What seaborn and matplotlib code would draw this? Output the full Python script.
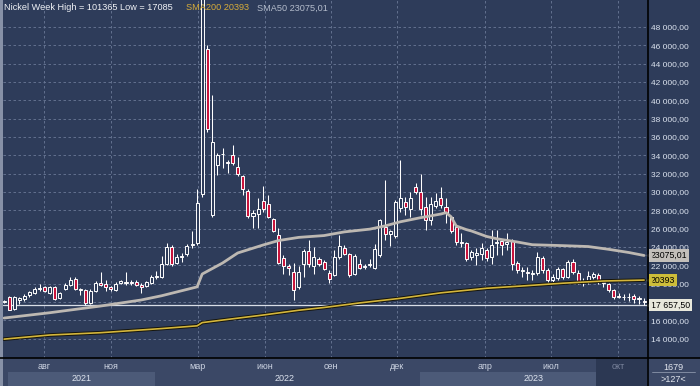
import numpy as np
import pandas as pd
import matplotlib
matplotlib.use("Agg")
import matplotlib.pyplot as plt
import matplotlib.dates as mdates
import matplotlib.patheffects as pe
from matplotlib.transforms import blended_transform_factory
from matplotlib.lines import Line2D
from matplotlib.patches import Rectangle
import seaborn as sns

# ---------------- data ----------------
start_week = "2021-06-07"
opens = [17950, 18500, 17250, 18250, 18300, 18750, 19000, 19400, 19650, 19000,
         19650, 18400, 19400, 19900, 20500, 19350, 19300, 17900, 19200, 20100,
         20000, 19600, 19300, 20050, 20050, 20100, 20200, 19900, 19800, 20050,
         20700, 20750, 22200, 24000, 22300, 22900, 23250, 24250, 24400, 29750,
         45600, 27500, 32950, 34100, 33250, 34050, 32700, 31700, 30100, 27400,
         27600, 29050, 28700, 27050, 25300, 22850, 21950, 21250, 19600, 22150,
         23600, 21950, 22650, 22400, 21130, 20950, 22900, 23900, 23250, 21050,
         22150, 21850, 22050, 21700, 23150, 26200, 25450, 25150, 28300, 28950,
         28200, 30500, 30050, 28400, 26950, 28500, 29300, 28400, 27300, 26200,
         24500, 24450, 22900, 23100, 23200, 23700, 22900, 24450, 24700, 24300,
         24700, 22300, 21400, 21250, 21100, 21150, 22850, 21450, 20400, 20600,
         21550, 20750, 22400, 21200, 20200, 20150, 20700, 20950, 20100, 19950,
         19300, 18650, 18500, 18600, 18650, 18300, 18150]
highs = [18250, 18650, 18700, 18600, 18900, 19200, 19600, 20000, 19800, 19800,
         19800, 19100, 20100, 20700, 20700, 19500, 19400, 19450, 20300, 21300,
         20350, 19750, 20150, 20400, 21300, 20350, 20400, 20050, 20300, 20950,
         21350, 23000, 24400, 24200, 23200, 23300, 24300, 25700, 30300, 101365,
         46000, 40600, 34220, 34800, 33500, 35100, 33850, 31850, 30300, 28050,
         29300, 30650, 29650, 27200, 26050, 23100, 22100, 22250, 21950, 23750,
         24750, 24000, 22900, 22600, 21500, 23650, 25300, 24200, 23400, 23200,
         22700, 22200, 22700, 24300, 27050, 31300, 25850, 29100, 33450, 29500,
         30050, 30950, 31950, 29500, 29500, 29850, 30600, 29300, 27400, 26400,
         25500, 24600, 23650, 23850, 24400, 23900, 25900, 25900, 24900, 25500,
         24850, 22500, 21800, 21800, 21500, 23500, 23000, 21700, 21100, 21800,
         21700, 22600, 22700, 21450, 20650, 21400, 21250, 21200, 20350, 20100,
         19400, 19000, 18850, 18950, 18900, 18650, 18400]
lows = [17850, 17085, 17150, 17800, 18100, 18550, 18900, 19200, 19100, 18900,
        18250, 18300, 19300, 19800, 19300, 18800, 17700, 17750, 19050, 19800,
        19250, 19200, 19200, 19950, 19900, 19850, 19800, 19000, 19600, 19950,
        20500, 20600, 22000, 21900, 22100, 22400, 23000, 23850, 24200, 29500,
        36500, 27300, 31850, 32600, 32100, 32900, 31700, 29650, 27200, 26050,
        26050, 27850, 27150, 25650, 22100, 21100, 21000, 18200, 19400, 20750,
        21850, 21050, 21900, 21500, 20050, 20800, 22700, 23100, 20750, 20900,
        21550, 21600, 21850, 21550, 22900, 24800, 24100, 25000, 27800, 27500,
        27300, 29800, 27500, 25850, 26400, 28300, 28300, 26600, 25500, 24200,
        24050, 22500, 22550, 22050, 22600, 22500, 22200, 23150, 23150, 23650,
        21500, 21200, 20700, 20350, 20350, 21000, 21200, 19900, 20000, 20450,
        20550, 20600, 21100, 19950, 19800, 20000, 20500, 19950, 19650, 19050,
        18350, 18400, 18200, 18150, 17900, 17800, 17700]
closes = [18150, 17100, 18550, 18450, 18650, 19050, 19400, 19450, 19150, 19650,
          18350, 19000, 19900, 20400, 19400, 19300, 17850, 19250, 20100, 19900,
          19650, 19400, 20000, 20250, 20100, 20050, 19900, 19600, 20150, 20700,
          20850, 22150, 24050, 22200, 22950, 22950, 24100, 24300, 28850, 88000,
          36900, 35500, 34050, 34200, 33200, 33200, 31950, 30300, 27400, 27700,
          28200, 28100, 27250, 25800, 22300, 21900, 21750, 19300, 21250, 23600,
          22150, 22950, 22150, 21650, 20480, 22950, 24100, 23250, 20950, 23000,
          21700, 21950, 22100, 23800, 26950, 25450, 25700, 28950, 29400, 28400,
          29400, 29950, 28200, 26950, 28700, 29050, 28600, 27750, 25700, 24500,
          24400, 22650, 23500, 23400, 23850, 22750, 24250, 24500, 24200, 24500,
          22200, 21450, 21500, 21200, 21200, 22900, 21450, 20450, 20700, 21600,
          20700, 22400, 21300, 20250, 20250, 20850, 21050, 20150, 20050, 19300,
          18550, 18550, 18550, 18500, 18300, 18350, 17950]

sma50_idx = [0, 9, 19, 27, 31, 38, 39, 43, 46, 51, 54, 58, 63, 67, 72, 75, 78,
             82, 86, 87, 88, 89, 90, 91, 92, 95, 97, 101, 104, 110, 115, 119, 123, 126]
sma50_val = [16250, 16830, 17560, 18220, 18680, 19650, 21050, 22250, 23350, 24220,
             24700, 25050, 25250, 25650, 25950, 26300, 26750, 27200, 27600, 27750,
             27300, 26300, 26100, 25900, 25750, 25150, 24900, 24550, 24250, 24150,
             24050, 23750, 23400, 23075.01]
sma200_idx = [0, 9, 19, 31, 38, 39, 43, 51, 58, 63, 70, 78, 86, 95, 102, 110, 118, 126]
sma200_val = [13950, 14400, 14650, 15100, 15400, 15750, 16030, 16580, 17100, 17400,
              17900, 18400, 19000, 19500, 19750, 20050, 20290, 20393]

last_price = 17657.50
title_high = 101365
title_low = 17085
bar_counter = 1679

y_ticks = list(range(14000, 48001, 2000))
month_ticks = ["2021-08-01", "2021-11-01", "2022-03-01", "2022-06-01", "2022-09-01",
               "2022-12-01", "2023-04-01", "2023-07-01", "2023-10-01"]
month_labels = ["авг", "ноя", "мар", "июн", "сен", "дек", "апр", "июл", "окт"]
year_labels = ["2021", "2022", "2023"]
year_centers = ["2021-09-22", "2022-06-29", "2023-06-06"]
band_2021 = ("2021-06-13", "2022-01-01")
band_2023 = ("2023-01-01", "2023-09-01")
current_box = ("2023-09-01", "2023-11-12")
x_range = ("2021-06-05 12:00", "2023-11-10 00:00")
y_range = (11890, 50950)

# ---------------- style ----------------
BG = "#2e3c5a"
PANEL = "#3b4866"
BAND = "#4c5a78"
DARKBOX = "#2c3853"
GRID = "#6a7896"
RED = "#c8143c"
TXT = "#dde4f0"

sns.set_style("dark")
plt.rcParams["font.family"] = ["Liberation Sans", "DejaVu Sans"]

dates = pd.date_range(start_week, periods=len(opens), freq="W-MON")
df = pd.DataFrame({"date": dates, "open": opens, "high": highs,
                   "low": lows, "close": closes})
up = (df["close"] >= df["open"]).to_numpy()

W, H = 700, 386
fig = plt.figure(figsize=(W / 100, H / 100), dpi=100)
fig.patch.set_facecolor(BG)

ax = fig.add_axes([3 / W, 28 / H, 644 / W, 358 / H])
axb = fig.add_axes([3 / W, 0, 644 / W, 28 / H])
ax.set_zorder(2)
axb.set_zorder(1)
ax.set_facecolor(BG)
axb.set_facecolor(PANEL)

def to_num(seq):
    return mdates.date2num(pd.to_datetime(list(seq), format="mixed"))

xnum = mdates.date2num(df["date"])

# candles
ax.vlines(xnum, df["low"], df["high"], color="white", lw=0.75, zorder=3)
body_bottom = np.minimum(df["open"], df["close"])
body_h = np.maximum(np.abs(df["close"] - df["open"]), 90)
ax.bar(xnum, body_h, bottom=body_bottom, width=4.2,
       color=np.where(up, BG, RED), edgecolor="white", linewidth=0.7, zorder=4)

# moving averages
sma50_df = pd.DataFrame({"x": xnum[sma50_idx], "v": sma50_val})
sma200_df = pd.DataFrame({"x": xnum[sma200_idx], "v": sma200_val})
sns.lineplot(data=sma50_df, x="x", y="v", ax=ax, color="#bdb8b2", lw=2.0,
             zorder=5, estimator=None, sort=False)
sns.lineplot(data=sma200_df, x="x", y="v", ax=ax, color="#d4b63c", lw=1.2,
             zorder=5, estimator=None, sort=False,
             path_effects=[pe.Stroke(linewidth=2.6, foreground="#16150c"), pe.Normal()])

ax.axhline(last_price, color="#d8dde6", lw=0.9, zorder=2.5)

# axes setup
xr = to_num(x_range)
ax.set_xlim(xr[0], xr[1])
axb.set_xlim(xr[0], xr[1])
ax.set_ylim(*y_range)
ax.set_xlabel("")
ax.set_ylabel("")
mt = to_num(month_ticks)
ax.set_xticks(mt)
ax.tick_params(axis="x", length=0, labelbottom=False)
ax.set_yticks(y_ticks)
ax.set_yticklabels([f"{v:,.2f}".replace(",", " ").replace(".", ",") for v in y_ticks])
ax.yaxis.tick_right()
ax.tick_params(axis="y", length=0, pad=3, labelsize=6.0, labelcolor=TXT)
ax.grid(True, color=GRID, ls=(0, (3, 3)), lw=0.6)
ax.set_axisbelow(True)
for s in ax.spines.values():
    s.set_visible(False)

# bottom time panel
axb.set_ylim(0, 1)
axb.set_xticks([])
axb.set_yticks([])
for s in axb.spines.values():
    s.set_visible(False)
b21 = to_num(band_2021)
b23 = to_num(band_2023)
cb = to_num(current_box)
axb.axvspan(b21[0], b21[1], ymin=0, ymax=0.5, color=BAND, lw=0)
axb.axvspan(b23[0], b23[1], ymin=0, ymax=0.5, color=BAND, lw=0)
axb.axvspan(cb[0], cb[1], ymin=0, ymax=1, color=DARKBOX, lw=0)
for m, lab in zip(mt, month_labels):
    col = "#7a849c" if m >= cb[0] else "#cdd4e2"
    axb.text(m, 0.68, lab, ha="center", va="center", fontsize=6.5, color=col)
for c, lab in zip(to_num(year_centers), year_labels):
    axb.text(c, 0.27, lab, ha="center", va="center", fontsize=6.5, color="#dde3ee")

# right-axis value boxes
tr = blended_transform_factory(ax.transAxes, ax.transData)
xb = 1 + 4 / 644
def value_box(y, s, face):
    ax.text(xb, y, s, transform=tr, ha="left", va="center", fontsize=6.3,
            color="black", zorder=10, clip_on=False,
            bbox=dict(boxstyle="square,pad=0.18", fc=face, ec="none"))
    ax.plot([1 + 2 / 644], [y], transform=tr, marker="<", ms=3.5, color=face,
            clip_on=False, zorder=10)

value_box(sma50_val[-1], f"{sma50_val[-1]:.2f}".replace(".", ","), "#c3bfba")
value_box(sma200_val[-1], f"{sma200_val[-1]}", "#cdbd3a")
value_box(last_price, f"{last_price:,.2f}".replace(",", " ").replace(".", ","), "#e8e8dc")

# frame lines and panels
fig.add_artist(Rectangle((0, 0), 3 / W, 1, transform=fig.transFigure,
                         color="#8791a7", lw=0, zorder=0.5))
fig.add_artist(Rectangle((647 / W, 0), 53 / W, 28 / H, transform=fig.transFigure,
                         color=PANEL, lw=0, zorder=0.5))
fig.add_artist(Line2D([0, 1], [28 / H, 28 / H], transform=fig.transFigure,
                      color="black", lw=1.2, zorder=6))
fig.add_artist(Line2D([647.5 / W, 647.5 / W], [0, 1], transform=fig.transFigure,
                      color="black", lw=1.2, zorder=6))
fig.add_artist(Line2D([652 / W, 695 / W], [14 / H, 14 / H], transform=fig.transFigure,
                      color="#8b95ab", lw=0.6, zorder=6))
fig.text(673 / W, 1 - 367 / H, f"{bar_counter}", ha="center", va="center",
         fontsize=6.5, color="#e2e6ee")
fig.text(673 / W, 1 - 379 / H, f">{len(opens)}<", ha="center", va="center",
         fontsize=6.5, color="#e2e6ee")

# title line
fig.text(4 / W, 1 - 8 / H, f"Nickel Week High = {title_high} Low = {title_low}",
         ha="left", va="center", fontsize=6.6, color="#f0f2f6", zorder=12)
fig.text(186 / W, 1 - 8 / H, f"SMA200 {sma200_val[-1]}", ha="left", va="center",
         fontsize=6.6, color="#d6ac3a", zorder=12)
fig.text(257 / W, 1 - 8 / H, "SMA50 " + f"{sma50_val[-1]:.2f}".replace(".", ","),
         ha="left", va="center", fontsize=6.6, color="#b4bccc", zorder=12)

fig.savefig("out.png", dpi=100, facecolor=fig.get_facecolor())
